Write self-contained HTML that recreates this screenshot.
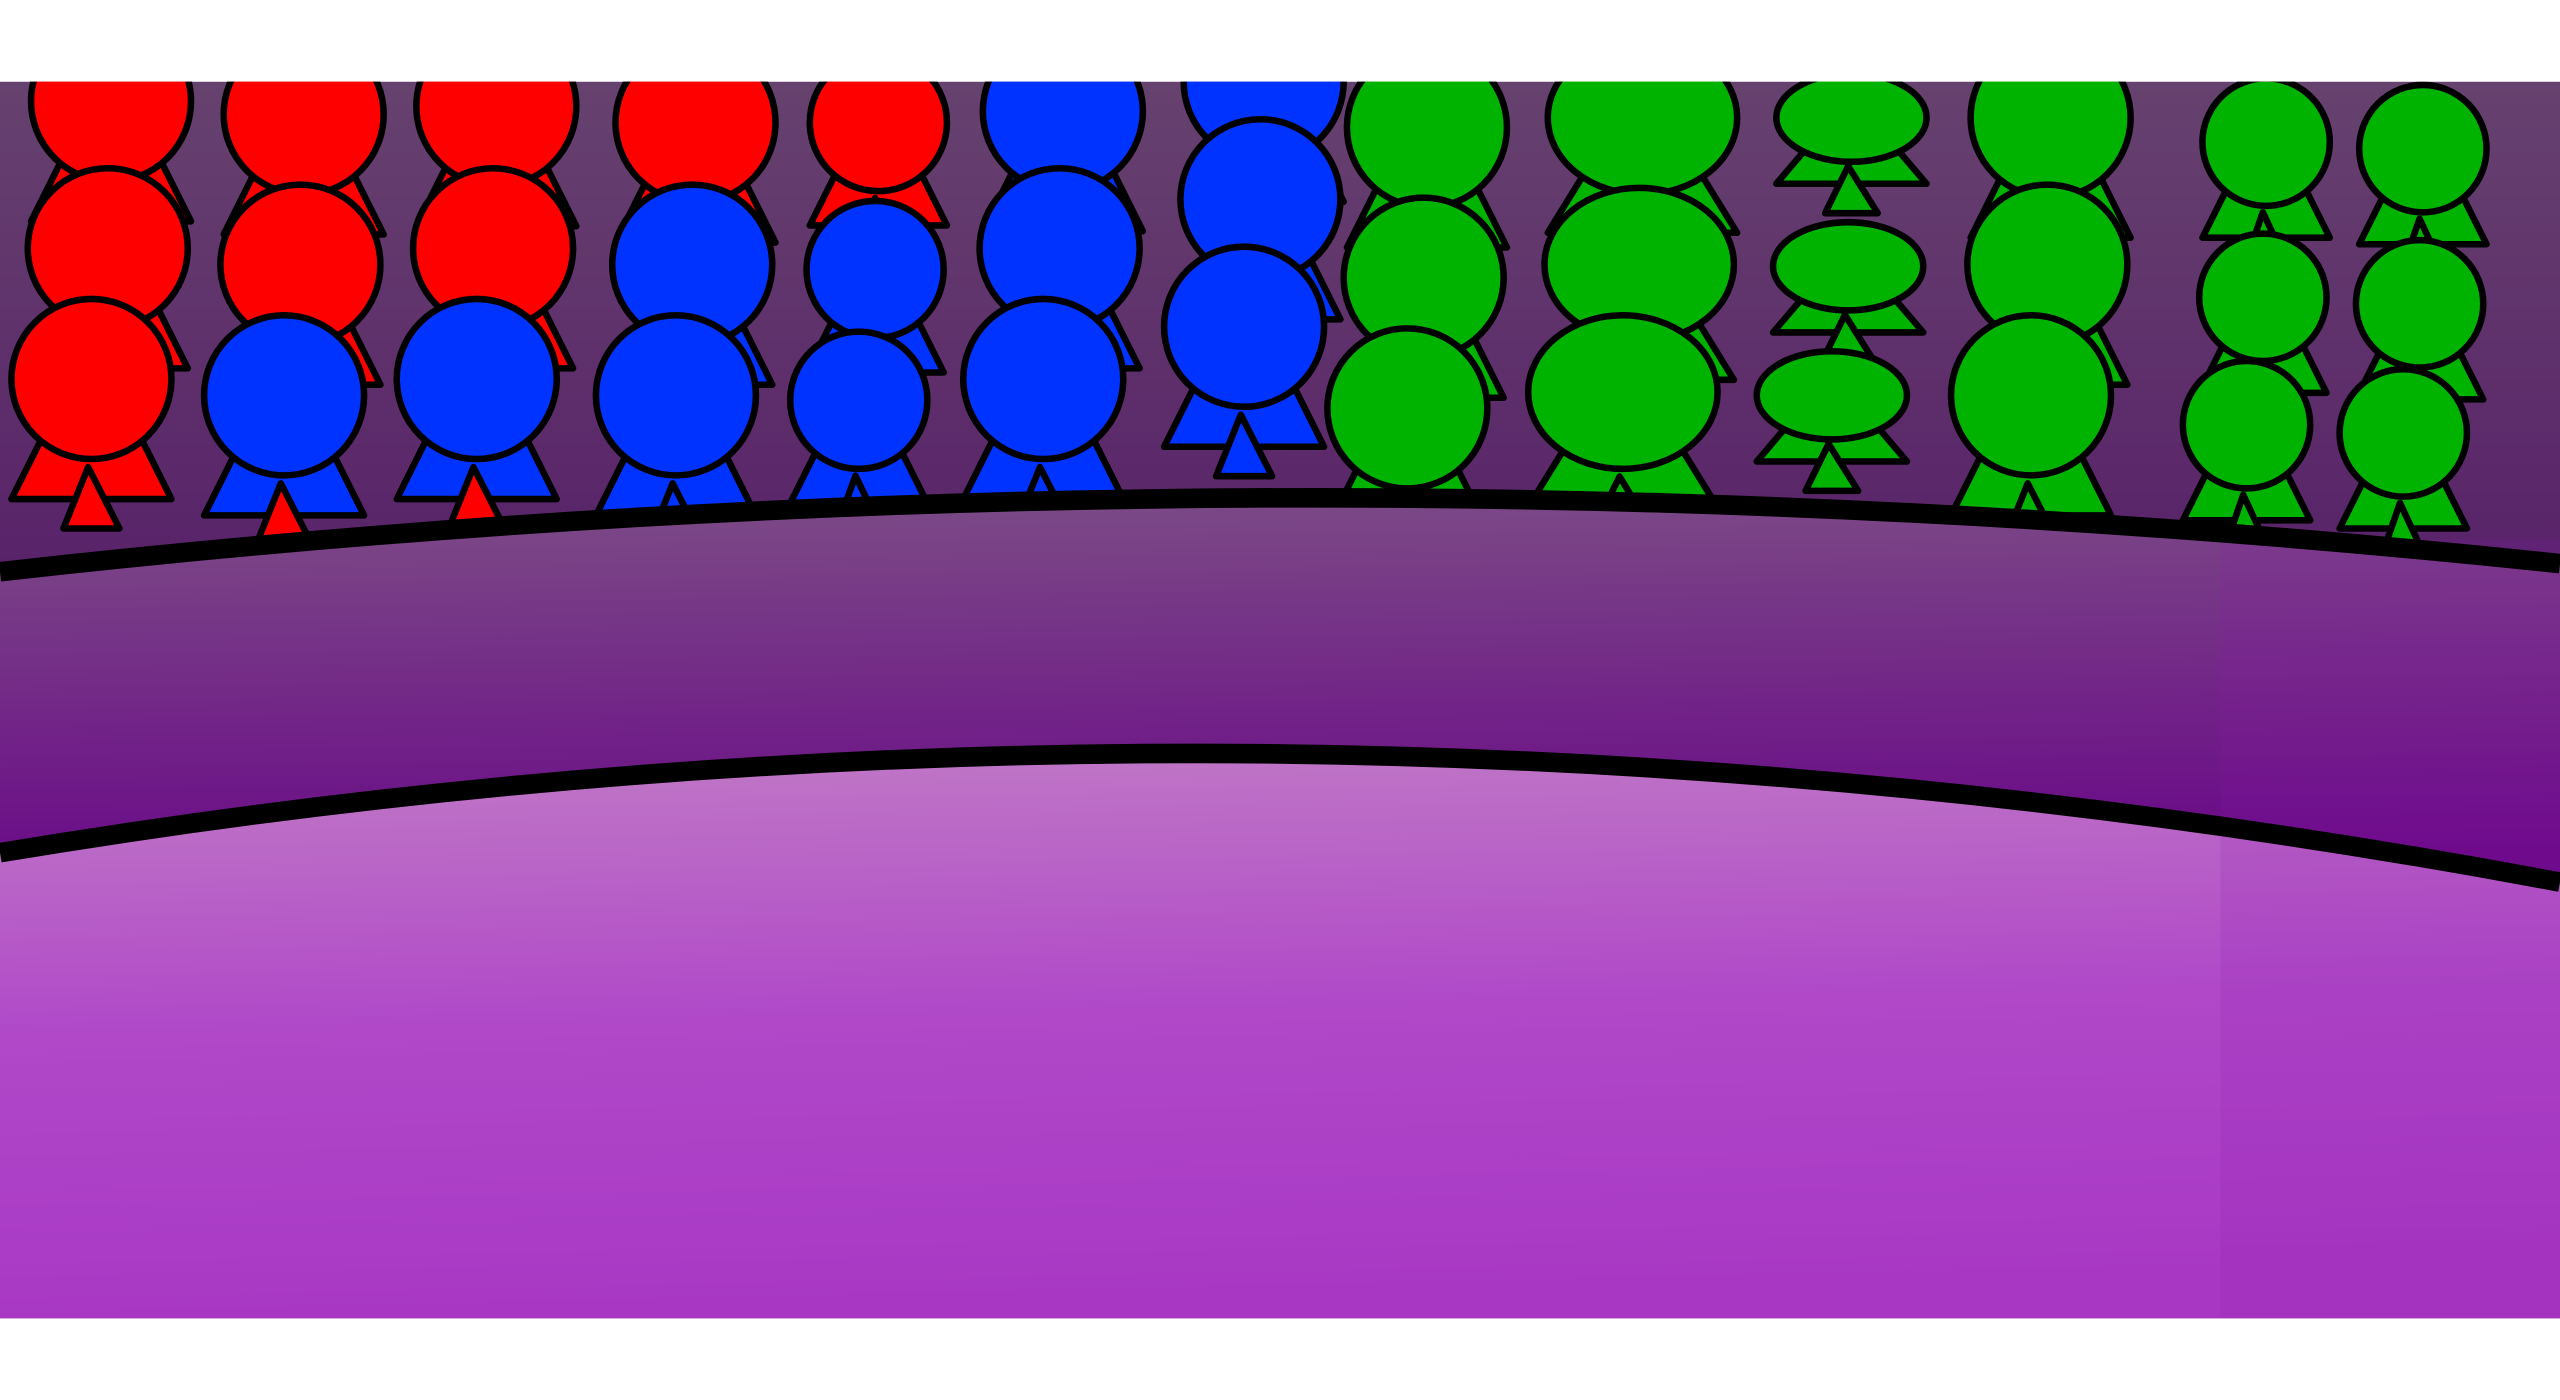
<!DOCTYPE html>
<html><head><meta charset="utf-8"><style>
html,body{margin:0;padding:0;background:#fff;width:2560px;height:1400px;overflow:hidden}
svg{display:block}
</style></head><body>
<svg width="2560" height="1400" viewBox="0 0 1568 857" preserveAspectRatio="none" xmlns="http://www.w3.org/2000/svg">
<defs>
<linearGradient id="bg" x1="0" y1="0" x2="0" y2="1"><stop offset="0" stop-color="#66426e"/><stop offset="0.5" stop-color="#551a68"/><stop offset="1" stop-color="#3e0552"/></linearGradient>
<linearGradient id="band" x1="0" y1="0" x2="0.1" y2="1"><stop offset="0" stop-color="#7c4d86"/><stop offset="1" stop-color="#6a0888"/></linearGradient>
<linearGradient id="floor" x1="0" y1="0" x2="0.1" y2="1"><stop offset="0" stop-color="#c07ac6"/><stop offset="0.5" stop-color="#b048c8"/><stop offset="1" stop-color="#a838c4"/></linearGradient>
<clipPath id="sc"><rect x="0" y="50" width="1568" height="757"/></clipPath>
</defs>
<rect x="0" y="0" width="1568" height="857" fill="#fff"/>
<g clip-path="url(#sc)">
<rect x="0" y="50" width="1568" height="757" fill="url(#bg)"/>
<g id="crowd" stroke="#000" stroke-width="4" stroke-linejoin="round"></g>
<path d="M0,350 Q780,262 1568,345 L1568,540 Q780,392 0,522 Z" fill="url(#band)"/>
<path d="M0,522 Q780,392 1568,540 L1568,807 L0,807 Z" fill="url(#floor)"/>
<rect x="1360" y="330" width="208" height="477" fill="#8a1ab0" opacity="0.15"/>
<path d="M0,350 Q780,262 1568,345" fill="none" stroke="#000" stroke-width="12"/>
<path d="M0,522 Q780,392 1568,540" fill="none" stroke="#000" stroke-width="12"/>
</g>
</svg>
<script>
const R='#ff0000',B='#0033ff',G='#00b300';
const colX=[62,180,298,420,532,645,768,868,1000,1128,1250,1382,1478];
const colColors=[[R,R,R],[R,R,B],[R,R,B],[R,B,B],[R,B,B],[B,B,B],[B,B,B],[G,G,G],[G,G,G],[G,G,G],[G,G,G],[G,G,G],[G,G,G]];
const colR=[49,49,49,49,42,49,49,49,58,46,49,39,39];
const colRy=[49,49,49,49,42,49,49,49,47,27,49,39,39];
const colTopY=[62,70,65,75,75,68,50,78,72,72,72,87,91];
const colMidY=[152,162,152,162,165,152,122,170,162,163,162,182,186];
const colFrontY=[232,242,232,242,245,232,200,250,240,242,242,260,265];
const g=document.getElementById('crowd');
const NS='http://www.w3.org/2000/svg';
function fig(cx,cy,rx,ry,col,inner){
  const p=document.createElementNS(NS,'polygon');
  const by=cy+ry*1.5;
  p.setAttribute('points',`${cx-rx*0.5},${cy+ry*0.5} ${cx+rx*0.5},${cy+ry*0.5} ${cx+rx*1.0},${by} ${cx-rx*1.0},${by}`);
  p.setAttribute('fill',col);
  
  
  g.appendChild(p);
  const t=document.createElementNS(NS,'polygon');
  t.setAttribute('points',`${cx-2},${cy+ry*1.1} ${cx-rx*0.35},${by+18} ${cx+rx*0.35},${by+18}`);
  t.setAttribute('fill',inner);
  
  
  g.appendChild(t);
  const e=document.createElementNS(NS,'ellipse');
  e.setAttribute('cx',cx);e.setAttribute('cy',cy);e.setAttribute('rx',rx);e.setAttribute('ry',ry);
  e.setAttribute('fill',col);
  
  
  g.appendChild(e);
}
colX.forEach((x,i)=>{
  const c=colColors[i];
  fig(x+6,colTopY[i],colR[i],colRy[i],c[0],c[0]);
  fig(x+4,colMidY[i],colR[i],colRy[i],c[1],c[1]);
  fig(x-6,colFrontY[i],colR[i],colRy[i],c[2],c[1]);
});
</script>
</body></html>
